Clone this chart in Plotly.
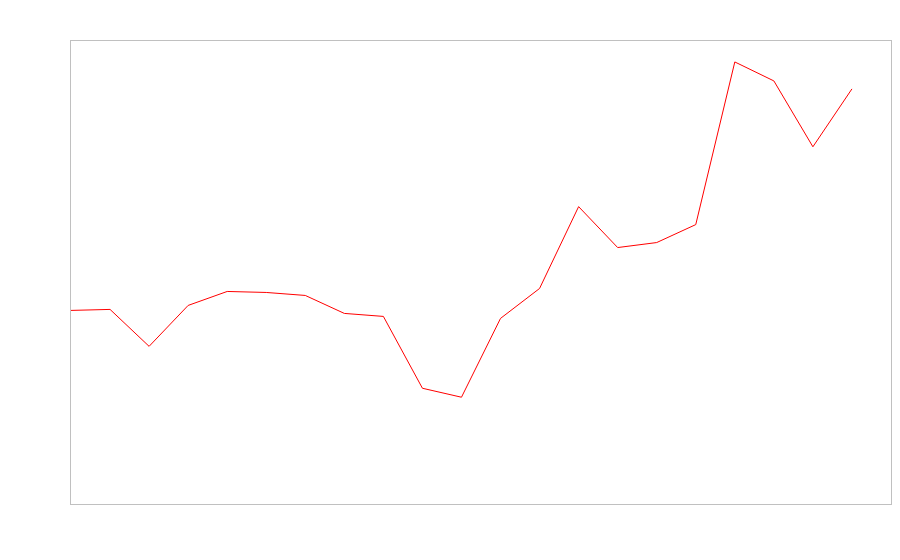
import plotly.graph_objects as go

# Valeurs (unités arbitraires)
indices = list(range(21))
valeurs = [194, 195, 158, 199, 213, 212, 209, 191, 188, 116, 107,
           186, 216, 298, 257, 262, 280, 443, 424, 358, 416]

fig = go.Figure(data=[
    go.Scatter(
        x=indices,
        y=valeurs,
        mode="lines",
        line=dict(color="red", width=1),
        showlegend=False,
    )
])

axe = dict(
    showgrid=False,
    zeroline=False,
    showticklabels=False,
    ticks="",
    showline=True,
    linecolor="#c0c0c0",
    linewidth=1,
    mirror=True,
)

# taille automatique (la page garde une marge d'environ 7 px autour du graphique)
fig.update_layout(
    margin=dict(l=63, r=1, t=33, b=48),
    plot_bgcolor="white",
    paper_bgcolor="white",
    xaxis=dict(range=[0, 21], **axe),
    yaxis=dict(range=[0, 464], **axe),
)

fig.write_html("out.html")
